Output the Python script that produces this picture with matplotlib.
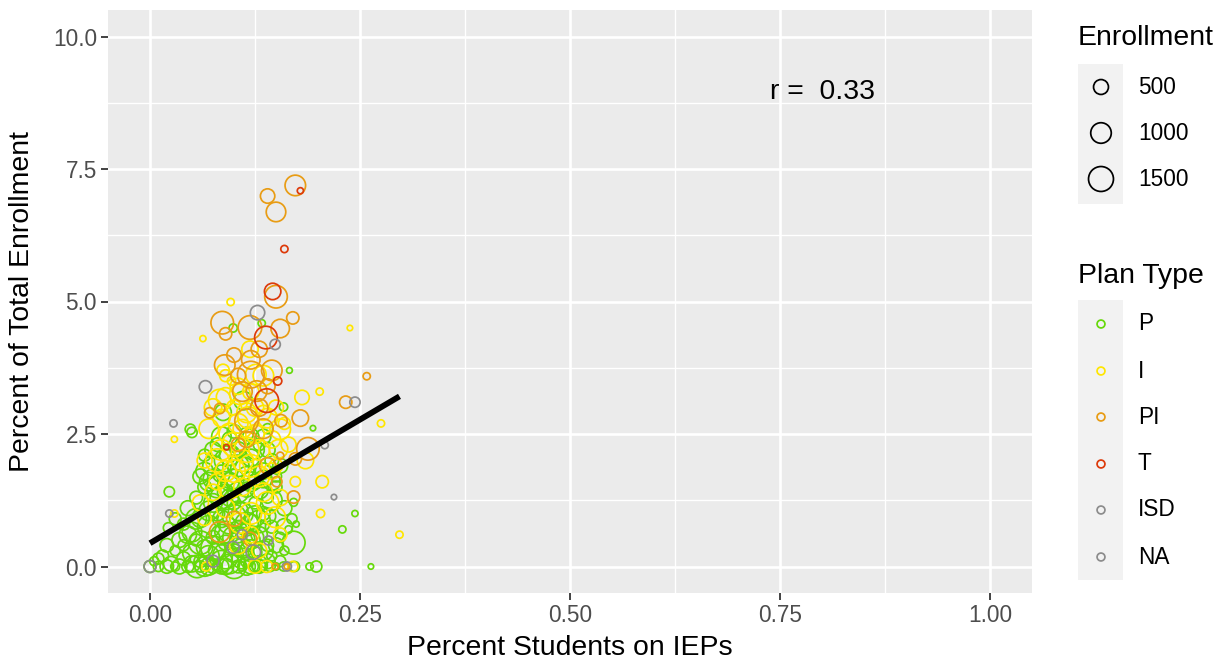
"""Scatter of plan types: share of total enrollment vs. share of students on IEPs."""
import numpy as np
import matplotlib
matplotlib.use("Agg")
import matplotlib.pyplot as plt
from matplotlib.patches import Rectangle

plt.rcParams["font.family"] = ["Liberation Sans", "DejaVu Sans"]

# (pct students on IEPs, pct of total enrollment, enrollment) per plan type
p_pts = [
    (0.0, 0, 300), (0.01, 0, 200), (0.02, 0, 400), (0.03, 0, 150), (0.035, 0, 500),
    (0.045, 0, 300), (0.056, 0, 1200), (0.06, 0, 250), (0.065, 0, 900), (0.075, 0, 400),
    (0.08, 0, 200), (0.09, 0, 600), (0.1, 0, 1400), (0.105, 0, 350), (0.11, 0, 150),
    (0.12, 0, 500), (0.125, 0, 250), (0.135, 0, 100), (0.143, 0, 200), (0.15, 0, 80),
    (0.159, 0, 150), (0.172, 0, 200), (0.19, 0, 80), (0.198, 0, 250), (0.263, 0, 20),
    (0.07, 0.0, 700), (0.085, 0.0, 500), (0.115, 0.0, 700), (0.13, 0.0, 400),
    (0.005, 0.1, 150), (0.015, 0.2, 300), (0.025, 0.05, 500), (0.03, 0.3, 200),
    (0.04, 0.15, 400), (0.04, 0.4, 250), (0.05, 0.25, 800), (0.055, 0.5, 300),
    (0.06, 0.1, 350), (0.065, 0.35, 600), (0.07, 0.2, 1000), (0.075, 0.55, 400),
    (0.08, 0.3, 700), (0.085, 0.1, 1100), (0.09, 0.45, 500), (0.1, 0.25, 800),
    (0.105, 0.6, 600), (0.11, 0.35, 900), (0.115, 0.1, 300), (0.12, 0.5, 800),
    (0.125, 0.25, 400), (0.13, 0.05, 600), (0.14, 0.4, 300), (0.145, 0.2, 200),
    (0.155, 0.1, 250), (0.16, 0.3, 150), (0.171, 0.45, 1250),
    (0.01, 0.15, 250), (0.02, 0.4, 400), (0.035, 0.5, 500), (0.05, 0.05, 600),
    (0.095, 0.05, 900), (0.14, 0.1, 500), (0.12, 0.3, 1100), (0.11, 0.5, 1500),
    (0.045, 0.6, 700), (0.06, 0.45, 1300), (0.075, 0.35, 1400), (0.09, 0.2, 1600),
    (0.1, 0.55, 1200), (0.11, 0.15, 1000), (0.125, 0.55, 700), (0.135, 0.3, 900),
    (0.15, 0.4, 500), (0.09, 0.65, 1100),
    (0.022, 0.73, 210), (0.023, 1.41, 210), (0.04, 0.8, 300), (0.045, 1.1, 500),
    (0.05, 0.65, 900), (0.055, 1.3, 350), (0.06, 0.9, 700), (0.065, 1.5, 400),
    (0.07, 0.75, 1200), (0.075, 1.2, 800), (0.08, 1.0, 500), (0.085, 0.6, 1000),
    (0.09, 1.4, 600), (0.095, 0.85, 1500), (0.1, 1.2, 400), (0.105, 0.7, 700),
    (0.11, 1.0, 1100), (0.115, 1.45, 500), (0.12, 0.8, 900), (0.125, 1.2, 300),
    (0.13, 0.6, 600), (0.135, 1.0, 400), (0.14, 1.3, 250), (0.145, 0.75, 350),
    (0.15, 1.5, 300), (0.155, 0.55, 200), (0.165, 0.7, 80), (0.169, 0.9, 200),
    (0.171, 1.21, 100), (0.174, 0.8, 40), (0.16, 1.1, 500), (0.229, 0.7, 76),
    (0.244, 1.0, 40), (0.03, 0.9, 300),
    (0.055, 0.9, 1000), (0.07, 1.05, 900), (0.08, 1.5, 1100), (0.085, 0.9, 700),
    (0.095, 1.6, 800), (0.105, 1.4, 1000), (0.115, 0.8, 1300), (0.12, 1.6, 900),
    (0.13, 1.45, 800), (0.14, 0.95, 600), (0.145, 1.6, 700), (0.16, 0.75, 600),
    (0.145, 1.25, 1000), (0.1, 0.95, 1300), (0.13, 0.85, 1200), (0.085, 1.3, 1200),
    (0.095, 1.3, 700), (0.105, 1.05, 900), (0.125, 0.95, 1000),
    (0.048, 2.59, 210), (0.05, 2.53, 210), (0.06, 1.7, 500), (0.065, 2.1, 300),
    (0.07, 1.6, 800), (0.075, 1.9, 1000), (0.08, 2.3, 400), (0.085, 1.75, 700),
    (0.09, 2.0, 1200), (0.095, 2.4, 500), (0.1, 1.65, 900), (0.105, 2.2, 600),
    (0.11, 1.85, 1300), (0.115, 2.5, 400), (0.12, 2.05, 700), (0.125, 1.6, 500),
    (0.13, 2.3, 300), (0.135, 1.8, 600), (0.14, 2.6, 200), (0.145, 2.0, 400),
    (0.15, 1.7, 250), (0.155, 1.9, 500), (0.065, 1.8, 700), (0.075, 2.2, 600),
    (0.085, 2.45, 900), (0.095, 2.1, 1000), (0.105, 1.9, 1100), (0.115, 1.7, 900),
    (0.125, 2.2, 800), (0.135, 2.45, 500), (0.075, 1.65, 900), (0.135, 1.65, 700),
    (0.14, 2.2, 500), (0.11, 2.3, 500), (0.1, 2.55, 400), (0.12, 2.45, 600),
    (0.159, 3.01, 116), (0.166, 3.7, 30), (0.194, 2.61, 20),
    (0.087, 2.91, 620), (0.111, 3.13, 800), (0.133, 4.59, 76), (0.099, 4.5, 116),
]
i_pts = [
    (0.096, 4.99, 76), (0.063, 4.3, 40), (0.238, 4.5, 20), (0.119, 4.1, 620),
    (0.087, 3.7, 330), (0.126, 3.62, 1000), (0.097, 3.5, 116), (0.083, 3.13, 1221),
    (0.117, 2.81, 1100), (0.107, 3.25, 1000), (0.181, 3.19, 463), (0.202, 3.3, 76),
    (0.275, 2.7, 76), (0.185, 2.0, 620), (0.173, 1.6, 210), (0.205, 1.6, 330),
    (0.203, 1.0, 116), (0.297, 0.6, 76), (0.149, 0.93, 1000), (0.155, 2.59, 1000),
    (0.153, 2.22, 800), (0.029, 2.4, 40), (0.029, 1.0, 76), (0.17, 0.0, 210),
    (0.067, 0.0, 150), (0.139, 0.0, 300), (0.125, 0.0, 400), (0.107, 0.82, 1000),
    (0.07, 2.6, 900), (0.075, 1.4, 600), (0.08, 2.0, 1300), (0.085, 2.8, 700),
    (0.09, 1.1, 800), (0.095, 2.5, 1100), (0.1, 3.0, 500), (0.1, 1.8, 1200),
    (0.105, 2.7, 900), (0.11, 1.5, 700), (0.115, 2.2, 1500), (0.12, 1.0, 1100),
    (0.12, 3.3, 600), (0.125, 2.5, 800), (0.13, 1.7, 1000), (0.135, 2.9, 500),
    (0.14, 1.2, 1200), (0.145, 2.4, 700), (0.15, 1.9, 400), (0.155, 1.3, 600),
    (0.16, 2.7, 300), (0.165, 2.3, 500), (0.06, 1.2, 600), (0.065, 0.9, 400),
    (0.105, 0.4, 700), (0.13, 0.3, 500), (0.09, 3.6, 300),
    (0.075, 3.0, 700), (0.085, 2.2, 1000), (0.09, 3.2, 800), (0.095, 1.5, 1300),
    (0.105, 3.4, 600), (0.11, 2.0, 1100), (0.115, 2.9, 900), (0.12, 1.9, 1200),
    (0.125, 3.0, 700), (0.13, 2.2, 1000), (0.135, 1.4, 800), (0.14, 2.8, 900),
    (0.145, 1.8, 600), (0.15, 3.0, 500), (0.09, 1.8, 1000), (0.1, 2.3, 1400),
    (0.11, 2.6, 800), (0.08, 1.6, 600), (0.065, 2.0, 500), (0.135, 3.6, 1000),
    (0.155, 0.6, 400), (0.12, 0.6, 600),
]
pi_pts = [
    (0.173, 7.19, 1000), (0.14, 6.99, 463), (0.15, 6.69, 900), (0.15, 5.09, 1221),
    (0.086, 4.6, 1221), (0.09, 4.39, 326), (0.119, 4.51, 1340), (0.155, 4.49, 800),
    (0.17, 4.69, 326), (0.1, 3.99, 463), (0.089, 3.8, 1000), (0.12, 3.62, 1726),
    (0.127, 3.31, 1000), (0.083, 2.98, 210), (0.071, 2.9, 210), (0.115, 2.75, 1340),
    (0.156, 2.75, 326), (0.258, 3.59, 76), (0.233, 3.1, 326), (0.179, 2.8, 620),
    (0.188, 2.22, 1221), (0.173, 2.03, 326), (0.155, 2.09, 76), (0.171, 1.31, 326),
    (0.151, 1.6, 210), (0.149, 0.0, 40), (0.163, 0.0, 20), (0.13, 3.0, 700),
    (0.14, 3.4, 500), (0.11, 3.3, 900), (0.105, 2.3, 400), (0.083, 0.65, 1000),
    (0.119, 0.52, 400), (0.12, 3.9, 800), (0.13, 4.1, 600), (0.105, 3.6, 500),
    (0.145, 3.7, 1000), (0.115, 2.4, 600), (0.135, 2.6, 900), (0.1, 0.9, 500),
    (0.14, 1.9, 600),
]
t_pts = [
    (0.179, 7.09, 40), (0.16, 5.99, 76), (0.146, 5.19, 620), (0.138, 4.32, 1221),
    (0.152, 3.5, 116), (0.139, 3.13, 1340), (0.091, 2.25, 20),
]
isd_pts = [
    (0.128, 4.79, 463), (0.149, 4.19, 210), (0.066, 3.39, 330), (0.028, 2.7, 76),
    (0.244, 3.1, 210), (0.208, 2.29, 76), (0.219, 1.31, 20), (0.023, 1.0, 76),
    (0.0, 0.0, 300), (0.141, 0.49, 150), (0.123, 0.27, 463), (0.163, 0.0, 150),
    (0.099, 0.36, 300),
]
na_pts = [(0.075, 0.1, 300), (0.11, 0.6, 200)]

plan_types = ["P", "I", "PI", "T", "ISD", "NA"]
plan_points = [p_pts, i_pts, pi_pts, t_pts, isd_pts, na_pts]
plan_colors = ["#66D90A", "#FFE600", "#E89C14", "#DD3A0A", "#8C8C8C", "#8C8C8C"]

size_breaks = [500, 1000, 1500]
fit_x = [0.0, 0.297]
fit_y = [0.44, 3.21]
r_value = 0.33


def marker_area(n):
    # diameter in px grows with sqrt of enrollment, 1 px = 0.72 pt at 100 dpi
    d_px = np.sqrt(22 + 0.4 * np.asarray(n, dtype=float))
    return (d_px * 0.72) ** 2


W, H = 1226, 661
fig = plt.figure(figsize=(W / 100, H / 100), dpi=100)
ax = fig.add_axes([108 / W, 1 - 593 / H, 924 / W, 583 / H])
ax.set_facecolor("#EBEBEB")
for s in ax.spines.values():
    s.set_visible(False)

ax.set_xlim(-0.05, 1.05)
ax.set_ylim(-0.5, 10.5)
ax.set_xticks([0, 0.25, 0.5, 0.75, 1.0])
ax.set_xticklabels(["0.00", "0.25", "0.50", "0.75", "1.00"])
ax.set_yticks([0, 2.5, 5, 7.5, 10])
ax.set_yticklabels(["0.0", "2.5", "5.0", "7.5", "10.0"])
ax.set_xticks([0.125, 0.375, 0.625, 0.875], minor=True)
ax.set_yticks([1.25, 3.75, 6.25, 8.75], minor=True)
ax.grid(which="major", color="white", linewidth=1.9)
ax.grid(which="minor", color="white", linewidth=0.95)
ax.set_axisbelow(True)
ax.tick_params(which="major", length=5, width=1.3, color="#333333",
               labelsize=16.3, labelcolor="#4D4D4D", pad=3)
ax.tick_params(which="minor", length=0)

for pts_list, col in zip(plan_points, plan_colors):
    pts = np.array(pts_list, dtype=float)
    ax.scatter(pts[:, 0], pts[:, 1], s=marker_area(pts[:, 2]),
               facecolors="none", edgecolors=col, linewidths=1.25, zorder=3)

ax.plot(fit_x, fit_y, color="black", linewidth=4.2, solid_capstyle="butt", zorder=4)
ax.text(0.8, 8.95, f"r =  {r_value:.2f}", fontsize=20.4, ha="center", va="center", zorder=5)

ax.set_xlabel("Percent Students on IEPs", fontsize=20.4, va="center")
ax.xaxis.set_label_coords(0.5, (593 - 648) / 583)
ax.set_ylabel("Percent of Total Enrollment", fontsize=20.4, va="center")
ax.yaxis.set_label_coords((22 - 108) / 924, 0.5)

# legends, laid out in pixel coordinates
lax = fig.add_axes([0, 0, 1, 1])
lax.set_xlim(0, W)
lax.set_ylim(H, 0)
lax.axis("off")

lax.text(1078, 38, "Enrollment", fontsize=20.4, ha="left", va="center")
lax.add_patch(Rectangle((1078, 64), 45, 140, color="#F2F2F2", lw=0))
size_rows = [87, 133, 179]
lax.scatter([1101] * 3, size_rows, s=marker_area(size_breaks), facecolors="none",
            edgecolors="black", linewidths=1.25)
for yy, b in zip(size_rows, size_breaks):
    lax.text(1138, yy, str(b), fontsize=16.3, ha="left", va="center")

lax.text(1078, 276, "Plan Type", fontsize=20.4, ha="left", va="center")
lax.add_patch(Rectangle((1078, 300), 45, 280, color="#F2F2F2", lw=0))
type_rows = [324, 371, 417, 464, 510, 557]
lax.scatter([1101] * 6, type_rows, s=marker_area([100] * 6), facecolors="none",
            edgecolors=plan_colors, linewidths=1.25)
for yy, lab in zip(type_rows, plan_types):
    lax.text(1138, yy, lab, fontsize=16.3, ha="left", va="center")

fig.savefig("out.png", dpi=100)
